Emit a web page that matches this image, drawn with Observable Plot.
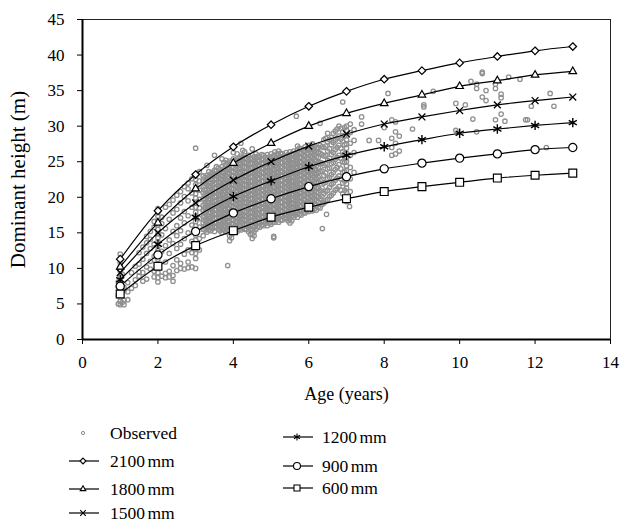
<!DOCTYPE html>
<html><head><meta charset="utf-8">
<script src="https://cdn.jsdelivr.net/npm/d3@7"></script>
<script src="https://cdn.jsdelivr.net/npm/@observablehq/plot@0.6"></script>
<style>
body{margin:0;background:#fff;}
#wrap{position:relative;width:621px;height:526px;font-family:"Liberation Serif","Times New Roman",serif;color:#000;}
.leg{position:absolute;display:flex;align-items:center;height:20px;font-size:17.5px;white-space:nowrap;}
.leg svg{display:block;}
</style></head><body><div id="wrap"></div>
<script>
// ---------- data ----------
const ages = [1, 2, 3, 4, 5, 6, 7, 8, 9, 10, 11, 12, 13];
const seriesNames = ["2100 mm", "1800 mm", "1500 mm", "1200 mm", "900 mm", "600 mm"];
const h2100 = [11.3, 18.1, 23.2, 27.1, 30.2, 32.8, 34.9, 36.6, 37.8, 38.9, 39.8, 40.6, 41.2];
const h1800 = [10.2, 16.4, 21.2, 24.8, 27.6, 30.0, 31.8, 33.2, 34.4, 35.6, 36.4, 37.2, 37.7];
const h1500 = [9.4, 15.0, 19.2, 22.4, 25.0, 27.2, 28.9, 30.3, 31.3, 32.2, 33.0, 33.6, 34.1];
const h1200 = [8.4, 13.4, 17.2, 20.1, 22.3, 24.3, 25.9, 27.1, 28.1, 29.0, 29.6, 30.1, 30.5];
const h900  = [7.5, 11.9, 15.2, 17.8, 19.8, 21.5, 22.9, 24.0, 24.8, 25.5, 26.1, 26.7, 27.0];
const h600  = [6.4, 10.3, 13.2, 15.3, 17.2, 18.6, 19.8, 20.8, 21.5, 22.1, 22.7, 23.1, 23.4];
const xTicks = [0, 2, 4, 6, 8, 10, 12, 14];
const yTicks = [0, 5, 10, 15, 20, 25, 30, 35, 40, 45];

// observed data, grouped by age: [age, heights]
const observedColumns = [
  [0.95, [5.0, 6.2, 7.4, 8.1]],
  [1.0, [4.9, 5.4, 6.0, 6.6, 7.1, 7.6, 8.3, 8.9, 9.6, 10.2, 10.8, 11.4, 12.0]],
  [1.05, [5.2, 6.8, 9.2]],
  [1.1, [4.9, 5.5, 6.9, 7.3]],
  [1.2, [5.6, 6.7, 8.0]],
  [1.3, [7.2, 9.4]],
  [1.4, [7.6, 8.4, 10.3]],
  [1.5, [8.9, 9.5, 10.6, 12.2]],
  [1.6, [8.2, 9.4, 11.3, 13.0]],
  [1.7, [8.5, 10.2, 12.1, 13.6, 14.5]],
  [1.8, [9.9, 11.0, 12.8, 14.1, 15.2]],
  [1.9, [8.8, 9.6, 11.7, 13.4, 15.8, 16.6]],
  [2.0, [8.1, 8.7, 9.4, 10.0, 10.6, 11.3, 11.9, 12.5, 13.1, 13.7, 14.3, 14.9, 15.5, 16.1, 16.7, 17.3, 17.9, 18.4]],
  [2.1, [8.9, 12.4, 14.7, 16.3, 17.2]],
  [2.2, [8.7, 9.3, 10.9, 13.2, 15.6, 18.6]],
  [2.3, [8.8, 9.6, 12.1, 14.0, 16.9, 19.0]],
  [2.4, [8.2, 9.0, 10.4, 13.5, 15.2, 17.8, 19.6]],
  [2.5, [9.7, 11.2, 12.8, 14.6, 16.0, 18.3, 20.3]],
  [2.6, [10.0, 10.7, 13.4, 15.3, 17.1, 19.2, 20.8]],
  [2.7, [9.9, 12.0, 14.2, 16.4, 18.0, 20.1, 21.5]],
  [2.8, [10.1, 10.9, 12.6, 15.0, 17.4, 19.5, 21.2, 22.0]],
  [2.9, [10.2, 12.2, 13.8, 16.1, 18.6, 20.6, 22.6]],
  [3.0, [10.0, 11.4, 12.1, 12.7, 13.4, 14.0, 14.7, 15.3, 16.0, 16.6, 17.3, 17.9, 18.6, 19.2, 19.9, 20.5, 21.2, 21.8, 22.5, 23.1, 26.9]],
  [3.1, [12.6, 14.2, 15.8, 17.0, 18.5, 19.7, 21.0, 22.3, 23.6]],
  [3.2, [14.6, 15.5, 16.4, 17.3, 18.1, 18.9, 19.8, 20.6, 21.5, 22.3, 23.0]],
  [3.25, [15.4, 16.0, 16.7, 17.3, 17.9, 18.5, 19.1, 19.7, 20.4, 21.0, 21.6, 22.2, 22.8]],
  [3.3, [15.1, 15.7, 16.4, 17.0, 17.5, 18.2, 18.8, 19.3, 20.0, 20.6, 21.1, 21.8, 22.4, 23.1, 24.5]],
  [3.35, [15.4, 16.1, 16.7, 17.3, 17.9, 18.5, 19.2, 19.8, 20.3, 21.0, 21.6, 22.2, 22.9, 23.6]],
  [3.4, [15.3, 15.8, 16.5, 17.1, 17.8, 18.3, 18.9, 19.6, 20.2, 20.7, 21.4, 22.0, 22.6, 23.3]],
  [3.45, [15.6, 16.2, 16.8, 17.4, 18.0, 18.7, 19.3, 19.9, 20.5, 21.1, 21.7, 22.4, 23.0, 23.5]],
  [3.5, [15.2, 15.9, 16.4, 17.0, 17.7, 18.3, 18.8, 19.5, 20.1, 20.8, 21.3, 21.9, 22.6, 23.2, 23.8, 25.9]],
  [3.55, [15.8, 16.4, 17.1, 17.6, 18.2, 18.9, 19.5, 20.1, 20.7, 21.3, 22.0, 22.5, 23.1, 23.7, 24.3]],
  [3.6, [15.5, 16.1, 16.7, 17.3, 17.9, 18.6, 19.2, 19.7, 20.4, 21.0, 21.6, 22.2, 22.8, 23.4, 24.1]],
  [3.65, [15.3, 15.9, 16.5, 17.1, 17.7, 18.3, 19.0, 19.6, 20.2, 20.8, 21.4, 22.0, 22.6, 23.2, 23.9]],
  [3.7, [15.0, 15.6, 16.2, 16.9, 17.5, 18.0, 18.7, 19.3, 19.9, 20.5, 21.2, 21.7, 22.4, 23.0, 23.6, 24.3, 25.4]],
  [3.75, [15.4, 16.0, 16.6, 17.2, 17.8, 18.4, 19.0, 19.7, 20.3, 20.9, 21.5, 22.1, 22.8, 23.4, 24.0, 24.9]],
  [3.8, [15.1, 15.8, 16.3, 17.0, 17.6, 18.2, 18.8, 19.5, 20.0, 20.7, 21.3, 21.9, 22.5, 23.1, 23.8, 24.6, 25.2]],
  [3.85, [10.4, 15.4, 16.1, 16.7, 17.3, 17.9, 18.5, 19.2, 19.8, 20.4, 21.0, 21.6, 22.2, 22.9, 23.5, 24.1, 24.8]],
  [3.9, [13.9, 14.6, 15.2, 15.9, 16.5, 17.1, 17.7, 18.4, 18.9, 19.6, 20.2, 20.8, 21.4, 22.0, 22.7, 23.3, 23.9, 24.5, 25.1]],
  [3.95, [14.3, 15.0, 15.6, 16.2, 16.8, 17.4, 18.1, 18.7, 19.3, 19.9, 20.5, 21.2, 21.8, 22.4, 23.0, 23.6, 24.2, 24.9]],
  [4.0, [15.0, 15.7, 16.3, 16.8, 17.5, 18.1, 18.6, 19.3, 19.9, 20.5, 21.1, 21.8, 22.3, 23.0, 23.6, 24.2, 24.8, 25.4, 26.3]],
  [4.05, [15.4, 16.0, 16.6, 17.2, 17.9, 18.5, 19.1, 19.7, 20.3, 20.9, 21.6, 22.2, 22.8, 23.4, 24.0, 24.6, 25.2]],
  [4.1, [15.2, 15.8, 16.5, 17.1, 17.7, 18.3, 18.9, 19.5, 20.1, 20.8, 21.4, 22.0, 22.6, 23.2, 23.8, 24.5, 25.2, 26.1]],
  [4.15, [15.5, 16.1, 16.8, 17.4, 18.0, 18.6, 19.2, 19.8, 20.4, 21.1, 21.7, 22.3, 22.9, 23.5, 24.1, 24.8, 25.5]],
  [4.2, [15.4, 16.0, 16.6, 17.2, 17.8, 18.4, 19.1, 19.7, 20.3, 20.9, 21.5, 22.1, 22.8, 23.4, 24.0, 24.7, 25.3, 25.8, 27.6]],
  [4.25, [15.7, 16.3, 16.9, 17.5, 18.1, 18.8, 19.4, 20.0, 20.6, 21.2, 21.8, 22.5, 23.1, 23.7, 24.3, 25.0, 25.6, 26.6]],
  [4.3, [15.5, 16.1, 16.8, 17.3, 18.0, 18.6, 19.2, 19.8, 20.4, 21.1, 21.7, 22.3, 22.9, 23.5, 24.2, 24.8, 25.5, 26.4]],
  [4.35, [15.5, 16.2, 16.8, 17.4, 18.0, 18.6, 19.3, 19.9, 20.5, 21.1, 21.7, 22.4, 23.0, 23.6, 24.2, 24.9, 25.5]],
  [4.4, [15.2, 15.9, 16.5, 17.1, 17.7, 18.3, 19.0, 19.6, 20.2, 20.8, 21.4, 22.1, 22.7, 23.3, 23.9, 24.6, 25.2, 25.9]],
  [4.45, [14.8, 15.5, 16.1, 16.7, 17.3, 17.9, 18.6, 19.2, 19.8, 20.4, 21.0, 21.7, 22.3, 22.9, 23.5, 24.1, 24.8, 25.5]],
  [4.5, [14.2, 14.8, 15.4, 16.0, 16.7, 17.3, 17.9, 18.5, 19.1, 19.8, 20.4, 21.0, 21.6, 22.2, 22.9, 23.5, 24.1, 24.7, 25.4, 26.8]],
  [4.55, [14.6, 15.2, 15.8, 16.4, 17.0, 17.6, 18.2, 18.9, 19.5, 20.1, 20.7, 21.3, 21.9, 22.6, 23.2, 23.8, 24.4, 25.1, 25.7]],
  [4.6, [15.5, 16.2, 16.8, 17.4, 18.0, 18.6, 19.2, 19.9, 20.5, 21.1, 21.7, 22.3, 23.0, 23.6, 24.2, 24.8, 25.5, 26.1]],
  [4.65, [15.9, 16.5, 17.1, 17.7, 18.3, 18.9, 19.6, 20.2, 20.8, 21.4, 22.0, 22.6, 23.3, 23.9, 24.5, 25.1, 25.8]],
  [4.7, [15.8, 16.4, 17.0, 17.6, 18.3, 18.9, 19.5, 20.1, 20.7, 21.3, 21.9, 22.6, 23.2, 23.8, 24.4, 25.1, 25.7]],
  [4.75, [16.1, 16.7, 17.3, 17.9, 18.6, 19.2, 19.8, 20.4, 21.0, 21.6, 22.3, 22.9, 23.5, 24.1, 24.8, 25.4, 26.0]],
  [4.8, [16.0, 16.6, 17.2, 17.9, 18.5, 19.1, 19.7, 20.3, 20.9, 21.6, 22.2, 22.8, 23.4, 24.0, 24.7, 25.3, 25.9]],
  [4.85, [16.3, 16.9, 17.5, 18.2, 18.8, 19.4, 20.0, 20.6, 21.2, 21.9, 22.5, 23.1, 23.7, 24.3, 25.0, 25.6]],
  [4.9, [16.0, 16.7, 17.3, 17.9, 18.5, 19.1, 19.8, 20.4, 21.0, 21.6, 22.2, 22.9, 23.5, 24.1, 24.7, 25.4, 26.0]],
  [4.95, [16.4, 17.0, 17.6, 18.2, 18.8, 19.5, 20.1, 20.7, 21.3, 21.9, 22.6, 23.2, 23.8, 24.4, 25.1, 25.7]],
  [5.0, [16.2, 16.8, 17.4, 18.0, 18.7, 19.3, 19.9, 20.5, 21.1, 21.8, 22.4, 23.0, 23.6, 24.2, 24.9, 25.5, 26.1]],
  [5.05, [16.5, 17.1, 17.7, 18.4, 19.0, 19.6, 20.2, 20.8, 21.5, 22.1, 22.7, 23.3, 23.9, 24.6, 25.2, 25.8]],
  [5.07, [14.3, 14.5]],
  [5.1, [16.5, 17.1, 17.7, 18.3, 19.0, 19.6, 20.2, 20.8, 21.4, 22.1, 22.7, 23.3, 23.9, 24.5, 25.2, 25.8, 26.4]],
  [5.15, [16.8, 17.4, 18.0, 18.7, 19.3, 19.9, 20.5, 21.1, 21.8, 22.4, 23.0, 23.6, 24.2, 24.9, 25.5, 26.1]],
  [5.2, [16.5, 17.2, 17.8, 18.4, 19.0, 19.6, 20.3, 20.9, 21.5, 22.1, 22.7, 23.4, 24.0, 24.6, 25.2, 25.9, 26.5]],
  [5.25, [16.8, 17.5, 18.1, 18.7, 19.3, 20.0, 20.6, 21.2, 21.8, 22.4, 23.1, 23.7, 24.3, 24.9, 25.6, 26.2]],
  [5.3, [16.8, 17.4, 18.0, 18.6, 19.3, 19.9, 20.5, 21.1, 21.7, 22.4, 23.0, 23.6, 24.2, 24.8, 25.5, 26.1]],
  [5.35, [17.1, 17.7, 18.3, 18.9, 19.6, 20.2, 20.8, 21.4, 22.0, 22.7, 23.3, 23.9, 24.5, 25.2, 25.8]],
  [5.4, [17.0, 17.6, 18.2, 18.9, 19.5, 20.1, 20.7, 21.3, 22.0, 22.6, 23.2, 23.8, 24.4, 25.1, 25.7, 26.3]],
  [5.45, [16.7, 17.3, 18.0, 18.6, 19.2, 19.8, 20.4, 21.1, 21.7, 22.3, 22.9, 23.5, 24.2, 24.8, 25.4, 26.0]],
  [5.5, [16.4, 17.0, 17.7, 18.3, 18.9, 19.5, 20.1, 20.8, 21.4, 22.0, 22.6, 23.2, 23.9, 24.5, 25.1, 25.7, 26.4]],
  [5.55, [16.7, 17.4, 18.0, 18.6, 19.2, 19.8, 20.5, 21.1, 21.7, 22.3, 22.9, 23.6, 24.2, 24.8, 25.4, 26.1]],
  [5.6, [17.2, 17.8, 18.4, 19.1, 19.7, 20.3, 20.9, 21.5, 22.2, 22.8, 23.4, 24.0, 24.6, 25.3, 25.9, 26.5]],
  [5.65, [17.5, 18.1, 18.8, 19.4, 20.0, 20.6, 21.2, 21.9, 22.5, 23.1, 23.7, 24.3, 25.0, 25.6, 26.2]],
  [5.67, [31.4]],
  [5.7, [17.2, 17.9, 18.5, 19.1, 19.7, 20.3, 21.0, 21.6, 22.2, 22.8, 23.4, 24.1, 24.7, 25.3, 25.9, 26.6, 27.2]],
  [5.75, [17.6, 18.2, 18.8, 19.4, 20.0, 20.7, 21.3, 21.9, 22.5, 23.1, 23.8, 24.4, 25.0, 25.6, 26.3, 26.9]],
  [5.8, [17.5, 18.1, 18.7, 19.4, 20.0, 20.6, 21.2, 21.8, 22.5, 23.1, 23.7, 24.3, 24.9, 25.6, 26.2, 26.8]],
  [5.85, [17.8, 18.4, 19.1, 19.7, 20.3, 20.9, 21.5, 22.2, 22.8, 23.4, 24.0, 24.6, 25.3, 25.9, 26.5]],
  [5.9, [17.8, 18.4, 19.0, 19.6, 20.3, 20.9, 21.5, 22.1, 22.7, 23.4, 24.0, 24.6, 25.2, 25.8, 26.5, 27.1]],
  [5.95, [18.1, 18.7, 19.3, 20.0, 20.6, 21.2, 21.8, 22.4, 23.1, 23.7, 24.3, 24.9, 25.5, 26.2, 26.8]],
  [6.0, [18.0, 18.6, 19.2, 19.9, 20.5, 21.1, 21.7, 22.3, 23.0, 23.6, 24.2, 24.8, 25.4, 26.1, 26.7, 27.3]],
  [6.05, [18.3, 18.9, 19.6, 20.2, 20.8, 21.4, 22.0, 22.7, 23.3, 23.9, 24.5, 25.1, 25.8, 26.4, 27.0]],
  [6.1, [18.1, 18.7, 19.4, 20.0, 20.6, 21.2, 21.8, 22.5, 23.1, 23.7, 24.3, 24.9, 25.6, 26.2, 26.8, 27.5]],
  [6.15, [18.4, 19.1, 19.7, 20.3, 20.9, 21.5, 22.2, 22.8, 23.4, 24.0, 24.6, 25.3, 25.9, 26.5, 27.2]],
  [6.2, [18.2, 18.9, 19.5, 20.1, 20.7, 21.3, 22.0, 22.6, 23.2, 23.8, 24.4, 25.1, 25.7, 26.3, 26.9]],
  [6.25, [18.6, 19.3, 20.0, 20.7, 21.4, 22.1, 22.8, 23.5, 24.2, 24.9, 25.6, 26.3, 27.0]],
  [6.3, [18.5, 19.8, 21.0, 22.4, 23.6, 24.9, 26.2, 27.3, 30.4]],
  [6.35, [19.0, 20.1, 21.3, 22.5, 23.7, 24.8, 26.0, 27.1]],
  [6.36, [15.6]],
  [6.4, [19.2, 20.5, 22.0, 23.1, 24.5, 25.8, 27.0, 28.1]],
  [6.45, [19.5, 20.8, 22.1, 23.4, 24.7, 25.9, 27.2, 28.3]],
  [6.47, [17.6]],
  [6.5, [19.7, 21.0, 22.6, 24.0, 25.2, 26.5, 27.8, 29.0]],
  [6.55, [20.1, 21.4, 22.8, 24.1, 25.5, 26.8, 28.1]],
  [6.6, [20.3, 21.8, 23.2, 24.7, 26.0, 27.4, 28.4]],
  [6.65, [20.6, 22.0, 23.5, 24.9, 26.3, 27.7, 29.0]],
  [6.7, [21.0, 22.4, 23.9, 25.3, 26.7, 28.0, 29.3]],
  [6.75, [21.2, 22.7, 24.2, 25.6, 27.0, 28.3, 29.6]],
  [6.8, [21.5, 23.0, 24.6, 25.9, 27.3, 28.6, 30.0]],
  [6.85, [21.0, 22.6, 24.0, 25.5, 26.9, 28.2, 29.7]],
  [6.9, [20.5, 22.0, 23.5, 25.0, 26.4, 27.9, 29.2, 33.4]],
  [6.95, [19.7, 21.0, 22.3, 23.6, 24.9, 26.1, 27.4, 28.7, 29.8]],
  [7.0, [19.4, 20.0, 20.7, 21.3, 21.9, 22.5, 23.1, 23.8, 24.4, 25.0, 25.6, 26.2, 26.9, 27.5, 28.1, 28.7, 29.4, 30.0]],
  [7.08, [18.7]],
  [7.1, [20.8, 22.6, 24.2, 25.9, 27.6, 29.1, 30.3]],
  [7.2, [23.5, 26.3, 28.0, 29.5]],
  [7.4, [30.3, 31.3]],
  [7.6, [28.0]],
  [7.85, [28.0]],
  [8.0, [29.8]],
  [8.1, [34.6]],
  [8.2, [25.9, 27.0, 28.3, 30.9]],
  [8.3, [26.1, 27.6, 29.2, 30.6]],
  [8.4, [26.5, 28.6]],
  [8.75, [29.6]],
  [9.05, [32.7, 33.0]],
  [9.3, [34.9]],
  [9.9, [29.4, 33.2]],
  [10.15, [33.0]],
  [10.3, [36.3]],
  [10.35, [31.0]],
  [10.45, [29.2, 35.3, 35.9]],
  [10.6, [34.1, 37.4, 37.6]],
  [10.7, [33.6, 35.0]],
  [10.95, [30.9, 35.3, 35.9]],
  [11.1, [31.7, 34.0, 34.5]],
  [11.2, [30.7]],
  [11.3, [36.9]],
  [11.6, [36.6]],
  [11.75, [30.9]],
  [11.8, [30.9]],
  [11.9, [32.8]],
  [12.3, [27.0]],
  [12.4, [34.6]],
  [12.5, [32.8]]
];

// ---------- build tables ----------
const observed = observedColumns.flatMap(([age, hs]) => hs.map(h => ({age, h})));
const seriesValues = [h2100, h1800, h1500, h1200, h900, h600];
const seriesSymbols = ["diamond2", "triangle2", "times", "asterisk", "circle", "square2"];
const seriesR = [3.4, 3.6, 3.2, 4.4, 4.1, 5.0];
const seriesSW = [1.2, 1.2, 1.3, 1.4, 1.2, 1.2];
const curves = seriesNames.map((name, i) => ages.map((a, j) => ({series: name, age: a, h: seriesValues[i][j]})));

const marks = [
  Plot.dot(observed, {x: "age", y: "h", r: 2.2, stroke: "#909090", strokeWidth: 1.3, fill: "none"})
];
curves.forEach((data, i) => {
  marks.push(Plot.line(data, {x: "age", y: "h", stroke: "black", strokeWidth: 1.2, curve: "catmull-rom"}));
  marks.push(Plot.dot(data, {x: "age", y: "h", symbol: () => seriesSymbols[i], r: seriesR[i], stroke: "black", strokeWidth: seriesSW[i], fill: "white"}));
});
marks.push(
  Plot.frame({stroke: "#222", strokeWidth: 1}),
  Plot.ruleX([0], {stroke: "black", strokeWidth: 2}),
  Plot.ruleY([0], {stroke: "black", strokeWidth: 2}),
  Plot.axisX({ticks: xTicks, tickSize: 5, tickPadding: 11, fontSize: 17, label: null}),
  Plot.axisY({ticks: yTicks, tickSize: 5, tickPadding: 13, fontSize: 17, label: null}),
  Plot.text(["Age (years)"], {frameAnchor: "bottom", dy: 55, fontSize: 18, textAnchor: "middle", lineAnchor: "middle"}),
  Plot.text(["Dominant height (m)"], {frameAnchor: "left", dx: -64, rotate: -90, fontSize: 21, textAnchor: "middle", lineAnchor: "middle"})
);

const chart = Plot.plot({
  width: 621,
  height: 410,
  marginLeft: 82,
  marginRight: 11,
  marginTop: 19,
  marginBottom: 71,
  x: {domain: [0, 14]},
  y: {domain: [0, 45]},
  symbol: {type: "identity"},
  style: {fontFamily: "'Liberation Serif', 'Times New Roman', serif", fontSize: "17px", color: "black", background: "white", overflow: "visible"},
  marks
});
const wrap = document.getElementById("wrap");
wrap.appendChild(chart);

// ---------- legend ----------
const legendItems = [
  {label: "Observed", sym: "obs", left: 69, cy: 433},
  {label: seriesNames[0], sym: 0, left: 69, cy: 461},
  {label: seriesNames[1], sym: 1, left: 69, cy: 489},
  {label: seriesNames[2], sym: 2, left: 69, cy: 513},
  {label: seriesNames[3], sym: 3, left: 283, cy: 437},
  {label: seriesNames[4], sym: 4, left: 283, cy: 466},
  {label: seriesNames[5], sym: 5, left: 283, cy: 488}
];
const d3Symbols = {diamond2: d3.symbolDiamond2, triangle2: d3.symbolTriangle2, times: d3.symbolTimes, asterisk: d3.symbolAsterisk, circle: d3.symbolCircle, square2: d3.symbolSquare2};
const legendSize = [22, 22, 22, 34, 38, 46];
legendItems.forEach(it => {
  const div = document.createElement("div");
  div.className = "leg";
  div.style.left = it.left + "px";
  div.style.top = (it.cy - 10) + "px";
  const svg = d3.create("svg").attr("width", 30).attr("height", 20);
  if (it.sym === "obs") {
    svg.append("circle").attr("cx", 14).attr("cy", 10).attr("r", 1.6).attr("fill", "none").attr("stroke", "#8a8a8a");
  } else {
    svg.append("line").attr("x1", 0).attr("x2", 30).attr("y1", 10).attr("y2", 10).attr("stroke", "black").attr("stroke-width", 1.2);
    svg.append("path").attr("transform", "translate(14,10)")
      .attr("d", d3.symbol(d3Symbols[seriesSymbols[it.sym]], legendSize[it.sym])())
      .attr("fill", "white").attr("stroke", "black").attr("stroke-width", 1.1);
  }
  div.appendChild(svg.node());
  const span = document.createElement("span");
  span.textContent = it.label;
  span.style.marginLeft = (it.left === 69 ? 11 : 9) + "px";
  span.style.wordSpacing = "-2px";
  div.appendChild(span);
  wrap.appendChild(div);
});
</script></body></html>
